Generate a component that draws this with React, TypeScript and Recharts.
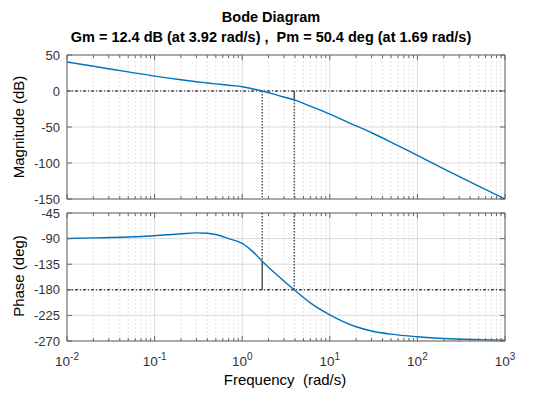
import { CartesianGrid, Line, LineChart, ReferenceLine, XAxis, YAxis } from "recharts";

const freqs = [0.01, 0.02, 0.05, 0.1, 0.2, 0.3, 0.4, 0.5, 0.7, 1, 1.3, 1.69, 2.5, 3.92, 6, 10, 20, 30, 50, 100, 200, 500, 1000];
const magDb = [40.3, 34.3, 26.6, 20.7, 15.6, 12.9, 11.2, 9.9, 8.0, 5.9, 3.2, 0, -5.8, -12.4, -21, -32, -48.5, -58, -71, -89.5, -108, -132, -150];
const phaseDeg = [-89.8, -88.8, -87.3, -85, -81.5, -80, -80.5, -82.8, -90, -98.5, -112, -129.6, -154, -180, -203, -224, -245, -252.5, -258, -262.5, -265.5, -267.5, -268.5];

const majorFreqs = [0.01, 0.1, 1, 10, 100, 1000];
const freqExponents = ["-2", "-1", "0", "1", "2", "3"];
const minorMultipliers = [2, 3, 4, 5, 6, 7, 8, 9];
const magTicks = [-150, -100, -50, 0, 50];
const phaseTicks = [-270, -225, -180, -135, -90, -45];

const gmDb = 12.4;
const gmFreq = 3.92;
const pmDeg = 50.4;
const pmFreq = 1.69;

const data = freqs.map((f, i) => ({ f, mag: magDb[i], phase: phaseDeg[i] }));
const allTicks = majorFreqs.flatMap((d, i) =>
  i < majorFreqs.length - 1 ? [d, ...minorMultipliers.map((m) => d * m)] : [d]
);
const minorFreqs = allTicks.filter((t) => !majorFreqs.includes(t));

const FONT = '"Liberation Sans", Arial, Helvetica, sans-serif';
const BLUE = "#0072BD";
const BOX = "#666";
const GRID = "#dadada";
const LABEL = "#333";
const PLOT_LEFT = 67;
const PLOT_RIGHT = 505;

// tick marks drawn inward at bottom and top of the box, label only on powers of ten
function FreqTick(props: any) {
  const { x, payload, top, bottom, showLabel } = props;
  const v = payload.value;
  const idx = majorFreqs.indexOf(v);
  const len = idx >= 0 ? 5 : 3;
  return (
    <g>
      <line x1={x} x2={x} y1={bottom} y2={bottom - len} stroke={BOX} />
      <line x1={x} x2={x} y1={top} y2={top + len} stroke={BOX} />
      {showLabel && idx >= 0 && (
        <text x={x} y={bottom + 25} textAnchor="middle" fontSize={13.5} fill={LABEL} fontFamily={FONT}>
          <tspan>10</tspan>
          <tspan dy={-6} fontSize={10}>{freqExponents[idx]}</tspan>
        </text>
      )}
    </g>
  );
}

function ValTick(props: any) {
  const { y, payload } = props;
  return (
    <g>
      <line x1={PLOT_LEFT} x2={PLOT_LEFT + 5} y1={y} y2={y} stroke={BOX} />
      <line x1={PLOT_RIGHT - 5} x2={PLOT_RIGHT} y1={y} y2={y} stroke={BOX} />
      <text x={PLOT_LEFT - 7} y={y + 4.5} textAnchor="end" fontSize={13} fill={LABEL} fontFamily={FONT}>
        {payload.value}
      </text>
    </g>
  );
}

function freqGrid() {
  return [
    ...minorFreqs.map((f) => (
      <ReferenceLine key={"mn" + f} x={f} stroke="#e2e2e2" strokeDasharray="2 2" />
    )),
    ...majorFreqs.map((f) => <ReferenceLine key={"mj" + f} x={f} stroke={GRID} />),
  ];
}

const dotted = "1.5 1.5";
const dashDot = "3 2 1 2";

export default function App() {
  return (
    <div style={{ position: "absolute", left: 0, top: 0, width: 550, height: 394, background: "#fff", fontFamily: FONT }}>
      <div style={{ position: "absolute", left: 0, top: 0 }}>
        <LineChart width={550} height={205} data={data} margin={{ top: 55, right: 45, bottom: 4, left: 17 }}>
          <CartesianGrid vertical={false} stroke={GRID} />
          {freqGrid()}
          <XAxis
            dataKey="f"
            type="number"
            scale="log"
            domain={[0.01, 1000]}
            ticks={allTicks}
            allowDataOverflow
            height={2}
            tickLine={false}
            axisLine={{ stroke: BOX }}
            tick={<FreqTick top={55} bottom={199} showLabel={false} />}
            interval={0}
          />
          <YAxis
            type="number"
            domain={[-150, 50]}
            ticks={magTicks}
            width={50}
            tickLine={false}
            axisLine={{ stroke: BOX }}
            tick={<ValTick />}
            interval={0}
          />
          <ReferenceLine y={50} stroke={BOX} />
          <ReferenceLine x={1000} stroke={BOX} />
          <ReferenceLine y={0} stroke="#000" strokeDasharray={dashDot} />
          <ReferenceLine segment={[{ x: pmFreq, y: 0 }, { x: pmFreq, y: -150 }]} stroke="#000" strokeDasharray={dotted} />
          <ReferenceLine segment={[{ x: gmFreq, y: 0 }, { x: gmFreq, y: -gmDb }]} stroke="#000" />
          <ReferenceLine segment={[{ x: gmFreq, y: -gmDb }, { x: gmFreq, y: -150 }]} stroke="#000" strokeDasharray={dotted} />
          <Line dataKey="mag" type="monotone" stroke={BLUE} strokeWidth={1.4} dot={false} isAnimationActive={false} />
        </LineChart>
      </div>
      <div style={{ position: "absolute", left: 0, top: 206 }}>
        <LineChart width={550} height={188} data={data} margin={{ top: 7, right: 45, bottom: 23, left: 17 }}>
          <CartesianGrid vertical={false} stroke={GRID} />
          {freqGrid()}
          <XAxis
            dataKey="f"
            type="number"
            scale="log"
            domain={[0.01, 1000]}
            ticks={allTicks}
            allowDataOverflow
            height={30}
            tickLine={false}
            axisLine={{ stroke: BOX }}
            tick={<FreqTick top={7} bottom={135} showLabel />}
            interval={0}
          />
          <YAxis
            type="number"
            domain={[-270, -45]}
            ticks={phaseTicks}
            width={50}
            tickLine={false}
            axisLine={{ stroke: BOX }}
            tick={<ValTick />}
            interval={0}
          />
          <ReferenceLine y={-45} stroke={BOX} />
          <ReferenceLine x={1000} stroke={BOX} />
          <ReferenceLine y={-180} stroke="#000" strokeDasharray={dashDot} />
          <ReferenceLine segment={[{ x: gmFreq, y: -45 }, { x: gmFreq, y: -180 }]} stroke="#000" strokeDasharray={dotted} />
          <ReferenceLine segment={[{ x: pmFreq, y: -45 }, { x: pmFreq, y: pmDeg - 180 }]} stroke="#000" strokeDasharray={dotted} />
          <ReferenceLine segment={[{ x: pmFreq, y: pmDeg - 180 }, { x: pmFreq, y: -180 }]} stroke="#000" />
          <Line dataKey="phase" type="monotone" stroke={BLUE} strokeWidth={1.4} dot={false} isAnimationActive={false} />
        </LineChart>
      </div>
      <svg width={550} height={394} style={{ position: "absolute", left: 0, top: 0, pointerEvents: "none" }}>
        <g fontFamily={FONT} fill="#000">
          <text x={271} y={22} textAnchor="middle" fontSize={14.5} fontWeight="bold">Bode Diagram</text>
          <text x={271} y={41.5} textAnchor="middle" fontSize={14.5} fontWeight="bold" style={{ whiteSpace: "pre" }}>
            {`Gm = ${gmDb} dB (at ${gmFreq} rad/s) ,  Pm = ${pmDeg} deg (at ${pmFreq} rad/s)`}
          </text>
          <text x={23.5} y={127} transform="rotate(-90 23.5 127)" textAnchor="middle" fontSize={15}>Magnitude (dB)</text>
          <text x={23.5} y={276} transform="rotate(-90 23.5 276)" textAnchor="middle" fontSize={15}>Phase (deg)</text>
          <text x={285} y={385} textAnchor="middle" fontSize={15} style={{ whiteSpace: "pre" }}>Frequency  (rad/s)</text>
        </g>
      </svg>
    </div>
  );
}
